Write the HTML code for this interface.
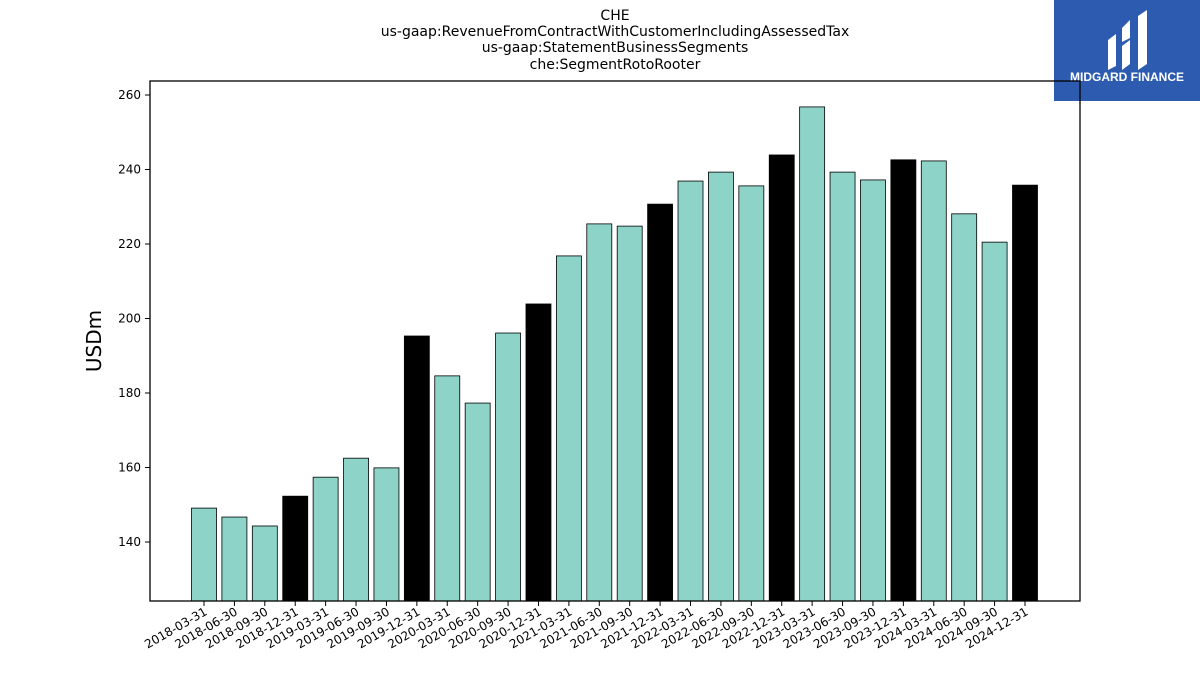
<!DOCTYPE html>
<html><head><meta charset="utf-8"><style>
body{margin:0;background:#fff;width:1200px;height:675px;overflow:hidden;font-family:"Liberation Sans","DejaVu Sans",sans-serif}
</style></head><body>
<svg id="chart" width="1200" height="675" xmlns="http://www.w3.org/2000/svg" font-family="DejaVu Sans, Liberation Sans, sans-serif">
<g font-size="14" text-anchor="middle" fill="#000">
<text x="615" y="20">CHE</text>
<text x="615" y="36">us-gaap:RevenueFromContractWithCustomerIncludingAssessedTax</text>
<text x="615" y="52">us-gaap:StatementBusinessSegments</text>
<text x="615" y="69">che:SegmentRotoRooter</text>
</g>
<g>
<rect x="1054" y="0" width="146" height="101" fill="#2d5bb0"/>
<path d="M1108 40 L1116 34 L1116 66 L1108 70 Z M1122 28 L1130 20 L1130 38 L1122 42 Z M1122 46 L1130 40 L1130 64 L1122 70 Z M1138 16 L1147 10 L1147 64 L1138 70 Z" fill="#fff"/>
<text x="1127" y="81" font-size="12" font-weight="bold" fill="#fff" text-anchor="middle" font-family="Liberation Sans, sans-serif">MIDGARD FINANCE</text>
</g>
<text transform="translate(101,341) rotate(-90)" font-size="20" text-anchor="middle">USDm</text>
<g id="bars"></g><g id="yaxis"></g><g id="xaxis"></g>
<rect x="150" y="81" width="930" height="520" fill="none" stroke="#000" stroke-width="1.3"/>
</svg>
<script>
const categories=["2018-03-31","2018-06-30","2018-09-30","2018-12-31","2019-03-31","2019-06-30","2019-09-30","2019-12-31","2020-03-31","2020-06-30","2020-09-30","2020-12-31","2021-03-31","2021-06-30","2021-09-30","2021-12-31","2022-03-31","2022-06-30","2022-09-30","2022-12-31","2023-03-31","2023-06-30","2023-09-30","2023-12-31","2024-03-31","2024-06-30","2024-09-30","2024-12-31"];
const values=[149.1,146.7,144.3,152.3,157.4,162.5,159.9,195.3,184.6,177.3,196.1,203.9,216.8,225.4,224.8,230.7,236.9,239.3,235.6,243.9,256.8,239.3,237.2,242.6,242.3,228.1,220.5,235.8];
const yTicks=[140,160,180,200,220,240,260];
const NS="http://www.w3.org/2000/svg";
function y(v){return 542-(v-140)*3.725;}
function x(i){return 204+i*(1025-204)/(categories.length-1);}
function mk(t,a,p){const e=document.createElementNS(NS,t);for(const k in a)e.setAttribute(k,a[k]);document.getElementById(p).appendChild(e);return e;}
const bw=25,base=601;
values.forEach((v,i)=>{
 const r=mk('rect',{x:x(i)-bw/2,y:y(v),width:bw,height:base-y(v),fill:categories[i].endsWith('12-31')?'#000':'#8dd3c7',stroke:'#000','stroke-width':0.8},'bars');
 
 
 const t=mk('line',{x1:x(i),x2:x(i),y1:601,y2:606,stroke:'#000'},'xaxis');
 
 
 const l=mk('text',{'font-size':12,'text-anchor':'end',transform:`translate(${x(i)+4},${614}) rotate(-30)`},'xaxis');
 l.textContent=categories[i];
 
 
});
yTicks.forEach(v=>{
 const t=mk('line',{x1:145,x2:150,y1:y(v),y2:y(v),stroke:'#000'},'yaxis');
 
 
 const l=mk('text',{x:141,y:y(v)+4,'font-size':12,'text-anchor':'end'},'yaxis');
 l.textContent=v;
 
 
});
</script>
</body></html>
